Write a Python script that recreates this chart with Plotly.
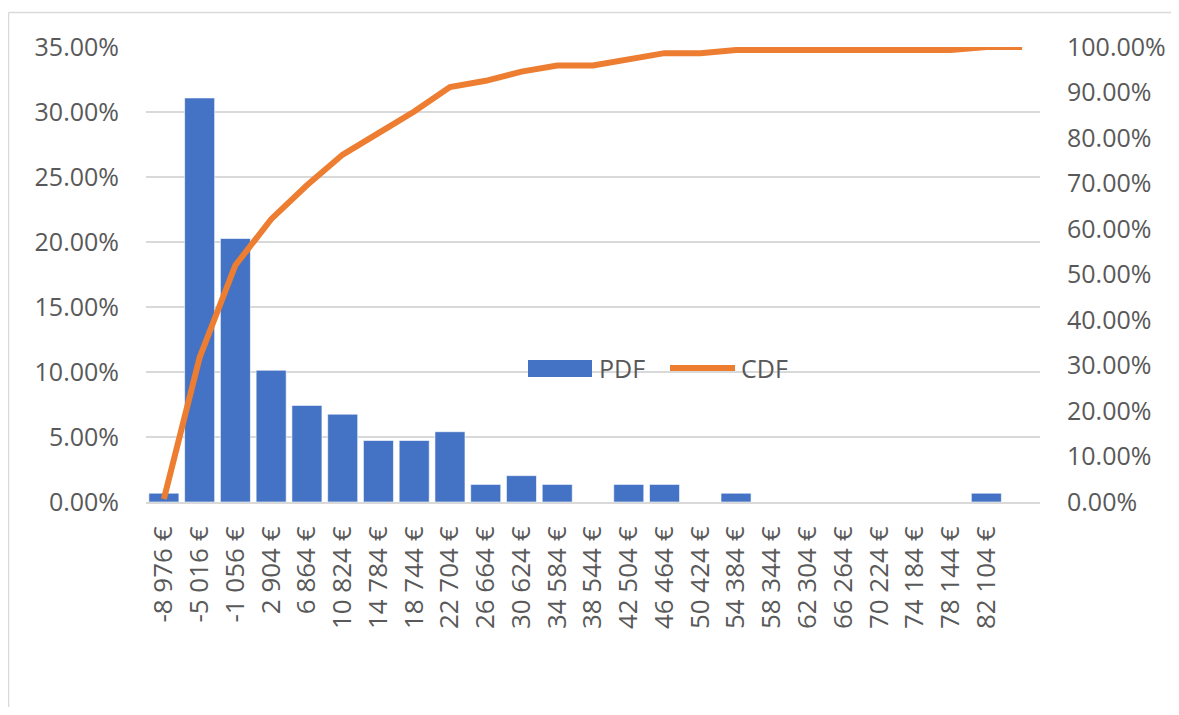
import plotly.graph_objects as go

# ---- data ----
bins = [-8976, -5016, -1056, 2904, 6864, 10824, 14784, 18744, 22704, 26664,
        30624, 34584, 38544, 42504, 46464, 50424, 54384, 58344, 62304, 66264,
        70224, 74184, 78144, 82104, None]
counts = [1, 46, 30, 15, 11, 10, 7, 7, 8, 2, 3, 2, 0, 2, 2, 0, 1, 0, 0, 0,
          0, 0, 0, 1, 0]
total = sum(counts)
pdf = [c / total for c in counts]
cdf = []
run = 0
for c in counts:
    run += c
    cdf.append(run / total)

def fmt(v):
    if v is None:
        return " "
    s = f"{abs(v):,}".replace(",", "\u00a0")
    return ("-" if v < 0 else "") + s + "\u00a0€"

labels = [fmt(b) for b in bins]
xcats = list(range(len(bins)))

FONT = "Open Sans"
TXT = "#595959"
GRID = "#D9D9D9"
BLUE = "#4472C4"
ORANGE = "#ED7D31"

fig = go.Figure()
fig.add_trace(go.Bar(x=xcats, y=pdf, name="PDF", marker=dict(color=BLUE, line=dict(color="white", width=0.6)),
                     showlegend=False))
fig.add_trace(go.Scatter(x=xcats, y=cdf, name="CDF", yaxis="y2", mode="lines",
                         line=dict(color=ORANGE, width=6), showlegend=False))

# page body has an 8px margin, so the figure is shifted by 8px; keep it inside the viewport
OFF = 8
W, H = 1179 - 2 * OFF, 715 - 2 * OFF
L, R, T, B = 146 - OFF, 1040 - OFF, 47 - OFF, 502 - OFF

def px(x):
    return (x - OFF - L) / (R - L)

def py(y):
    return (B - (y - OFF)) / (B - T)

YF = 25
XF = 26

fig.update_layout(
    width=W, height=H,
    margin=dict(l=L, r=W - R, t=T, b=H - B, autoexpand=False),
    paper_bgcolor="white", plot_bgcolor="white",
    font=dict(family=FONT, size=YF, color=TXT),
    bargap=0.16,
    xaxis=dict(tickmode="array", tickvals=xcats, ticktext=labels, tickangle=-90,
               range=[-0.5, len(bins) - 0.5], showgrid=False, showline=True,
               linecolor=GRID, linewidth=2, ticks="", ticklabelstandoff=12,
               tickfont=dict(size=XF, color=TXT), automargin=False),
    yaxis=dict(range=[0, 0.35], dtick=0.05, tickformat=".2%", showgrid=True,
               gridcolor=GRID, gridwidth=1.5, zeroline=False, ticks="",
               ticklabelstandoff=26, tickfont=dict(size=YF, color=TXT), automargin=False),
    yaxis2=dict(range=[0, 1.0], dtick=0.1, tickformat=".2%", overlaying="y",
                side="right", showgrid=False, zeroline=False, ticks="",
                ticklabelstandoff=26, tickfont=dict(size=YF, color=TXT), automargin=False),
    shapes=[
        dict(type="line", xref="paper", yref="paper", x0=px(8.5), x1=px(1179),
             y0=py(12.5), y1=py(12.5), line=dict(color=GRID, width=1.5), layer="below"),
        dict(type="line", xref="paper", yref="paper", x0=px(8.5), x1=px(8.5),
             y0=py(12.5), y1=py(715), line=dict(color=GRID, width=1.5), layer="below"),
        dict(type="rect", xref="paper", yref="paper", x0=px(528), x1=px(592),
             y0=py(377), y1=py(360), fillcolor=BLUE, line=dict(width=0)),
        dict(type="line", xref="paper", yref="paper", x0=px(670), x1=px(735),
             y0=py(368), y1=py(368), line=dict(color=ORANGE, width=6)),
    ],
    annotations=[
        dict(text="PDF", xref="paper", yref="paper", x=px(597), y=py(368),
             xanchor="left", yanchor="middle", showarrow=False,
             font=dict(size=YF, color=TXT, family=FONT)),
        dict(text="CDF", xref="paper", yref="paper", x=px(739), y=py(368),
             xanchor="left", yanchor="middle", showarrow=False,
             font=dict(size=YF, color=TXT, family=FONT)),
    ],
)

fig.write_html("out.html")
